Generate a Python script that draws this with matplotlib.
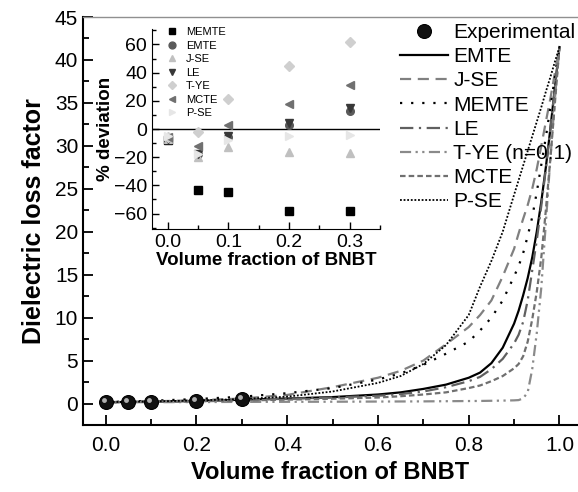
import matplotlib
matplotlib.use("Agg")
import matplotlib.pyplot as plt
from matplotlib.ticker import MultipleLocator
import matplotlib.transforms as mtransforms

plt.rcParams['font.family'] = ['Liberation Sans', 'DejaVu Sans']

# ---------------- data ----------------
x_exp = [0.0, 0.05, 0.1, 0.2, 0.3]
y_exp = [0.15, 0.18, 0.22, 0.32, 0.50]

x_model = [0.0, 0.1, 0.2, 0.3, 0.4, 0.5, 0.6, 0.65, 0.7, 0.75, 0.8, 0.825, 0.85,
           0.875, 0.9, 0.91, 0.92, 0.93, 0.94, 0.95, 0.96, 0.97, 0.98, 0.99, 1.0]
emte = [0.16, 0.20, 0.30, 0.44, 0.58, 0.75, 1.05, 1.3, 1.7, 2.2, 3.0, 3.6, 4.7,
        6.5, 9.3, 10.8, 12.6, 14.6, 17.0, 20.0, 23.5, 27.5, 32.0, 36.8, 41.5]
jse = [0.16, 0.25, 0.38, 0.58, 1.0, 1.9, 3.0, 3.8, 5.0, 6.9, 8.9, 10.3, 12.0,
       14.8, 18.0, 19.8, 21.5, 23.1, 25.0, 27.3, 30.0, 32.8, 35.5, 38.5, 41.5]
memte = [0.16, 0.32, 0.52, 0.79, 1.2, 1.8, 2.8, 3.5, 4.5, 5.8, 7.2, 8.5, 10.0,
         12.0, 14.8, 16.0, 17.5, 19.5, 21.7, 24.6, 27.8, 31.0, 34.5, 38.0, 41.5]
le = [0.16, 0.20, 0.30, 0.43, 0.55, 0.70, 0.90, 1.1, 1.4, 1.9, 2.6, 3.1, 4.0,
      5.2, 7.0, 8.0, 9.5, 12.0, 15.5, 19.0, 23.0, 27.3, 32.0, 36.8, 41.5]
tye = [0.15, 0.16, 0.17, 0.19, 0.20, 0.21, 0.23, 0.24, 0.25, 0.27, 0.29, 0.30, 0.32,
       0.34, 0.37, 0.40, 0.6, 1.3, 4.0, 8.2, 13.5, 21.0, 28.5, 35.5, 41.5]
mcte = [0.16, 0.19, 0.25, 0.35, 0.45, 0.56, 0.70, 0.85, 1.05, 1.3, 1.8, 2.1, 2.6,
        3.2, 4.1, 4.6, 5.5, 7.2, 9.8, 13.0, 17.0, 22.5, 28.5, 35.0, 41.5]
pse = [0.16, 0.24, 0.36, 0.52, 0.80, 1.4, 2.4, 3.2, 4.6, 6.8, 10.3, 13.6, 16.6,
       20.0, 24.3, 26.0, 27.7, 29.4, 31.1, 32.8, 34.5, 36.3, 38.0, 39.8, 41.5]

# inset: % deviation
x_dev = [0.0, 0.05, 0.1, 0.2, 0.3]
dev_memte = [-8, -43, -45, -58, -58]
dev_emte = [-7, -18, -6, 3, 13]
dev_jse = [-7, -20, -13, -16, -17]
dev_le = [-7, -18, -5, 4, 15]
dev_tye = [-6, -2, 21, 45, 62]
dev_mcte = [-6, -12, 3, 18, 31]
dev_pse = [-5, -18, -8, -5, -4]

# ---------------- figure ----------------
W, H = 578, 492
fig = plt.figure(figsize=(W / 100, H / 100), dpi=100)
ax = fig.add_axes([83 / W, 67 / H, (W - 83) / W, (425 - 17) / H])

ax.plot(x_model, emte, color='black', lw=1.6, ls='-', label='EMTE')
ax.plot(x_model, jse, color='#808080', lw=1.6, ls=(0, (5, 3)), label='J-SE')
ax.plot(x_model, memte, color='black', lw=1.6, ls=(0, (1, 4)), label='MEMTE')
ax.plot(x_model, le, color='#606060', lw=1.6, ls=(0, (6, 2.5, 1, 2.5)), label='LE')
ax.plot(x_model, tye, color='#8a8a8a', lw=1.6, ls=(0, (5, 2, 1, 2, 1, 2)), label='T-YE (n=0.1)')
ax.plot(x_model, mcte, color='#707070', lw=1.6, ls=(0, (2.5, 1.4)), label='MCTE')
ax.plot(x_model, pse, color='black', lw=1.3, ls=(0, (1, 1)), label='P-SE')

hexp, = ax.plot(x_exp, y_exp, ls='none', marker='o', ms=10, mfc='#111111',
                mec='black', mew=0.8, zorder=5, label='Experimental')
# highlight on spheres
off = mtransforms.offset_copy(ax.transData, fig=fig, x=-1.5, y=1.5, units='points')
ax.plot(x_exp, y_exp, ls='none', marker='o', ms=3.5, mfc='#b0b0b0', mec='none',
        transform=off, zorder=6)

ax.set_xlim(-0.05, (W - 107) / 452.5)
ax.set_ylim(-2.5, 45)
ax.xaxis.set_major_locator(MultipleLocator(0.2))
ax.xaxis.set_minor_locator(MultipleLocator(0.1))
ax.yaxis.set_major_locator(MultipleLocator(5))
ax.yaxis.set_minor_locator(MultipleLocator(2.5))
ax.tick_params(which='both', direction='in', labelsize=15, width=1.3)
ax.tick_params(which='major', length=7)
ax.tick_params(which='minor', length=4)
ax.tick_params(axis='x', pad=8)
ax.xaxis.set_major_formatter(matplotlib.ticker.FormatStrFormatter('%.1f'))
ax.spines['right'].set_visible(False)
ax.spines['top'].set_color('#909090')
ax.spines['top'].set_linewidth(1.0)
ax.spines['left'].set_linewidth(1.5)
ax.spines['bottom'].set_linewidth(1.5)
ax.set_xlabel('Volume fraction of BNBT', fontsize=17, fontweight='bold', labelpad=4)
ax.set_ylabel('Dielectric loss factor', fontsize=18, fontweight='bold', labelpad=6)

handles, labels = ax.get_legend_handles_labels()
order = [7, 0, 1, 2, 3, 4, 5, 6]
leg = ax.legend([handles[i] for i in order], [labels[i] for i in order],
                loc='upper left', bbox_to_anchor=(400 / W, (H - 23) / H),
                bbox_transform=fig.transFigure, frameon=False, fontsize=15,
                borderpad=0, borderaxespad=0, handlelength=2.3, handletextpad=0.25,
                labelspacing=0.25)

# ---------------- inset ----------------
ins = fig.add_axes([152 / W, (H - 229) / H, (380 - 152) / W, (229 - 29) / H])
ins.patch.set_alpha(0)
ins.axhline(0, color='black', lw=1.0)
ms = 5.5
ins.plot(x_dev, dev_memte, ls='none', marker='s', ms=ms, color='black', label='MEMTE')
ins.plot(x_dev, dev_emte, ls='none', marker='o', ms=ms, color='#5a5a5a', label='EMTE')
ins.plot(x_dev, dev_jse, ls='none', marker='^', ms=ms, color='#c0c0c0', label='J-SE')
ins.plot(x_dev, dev_le, ls='none', marker='v', ms=ms, color='#383838', label='LE')
ins.plot(x_dev, dev_tye, ls='none', marker='D', ms=ms - 0.8, color='#cfcfcf', label='T-YE')
ins.plot(x_dev, dev_mcte, ls='none', marker='<', ms=ms, color='#707070', label='MCTE')
ins.plot(x_dev, dev_pse, ls='none', marker='>', ms=ms, color='#e6e6e6', label='P-SE')

ins.set_xlim(-0.026, 0.35)
ins.set_ylim(-71, 71)
ins.xaxis.set_major_locator(MultipleLocator(0.1))
ins.xaxis.set_minor_locator(MultipleLocator(0.05))
ins.yaxis.set_major_locator(MultipleLocator(20))
ins.yaxis.set_minor_locator(MultipleLocator(10))
ins.set_yticks([-60, -40, -20, 0, 20, 40, 60])
ins.xaxis.set_major_formatter(matplotlib.ticker.FormatStrFormatter('%.1f'))
ins.tick_params(which='both', direction='in', labelsize=14, width=1.0)
ins.tick_params(which='major', length=5)
ins.tick_params(which='minor', length=3)
ins.spines['right'].set_visible(False)
ins.spines['top'].set_visible(False)
ins.set_xlabel('Volume fraction of BNBT', fontsize=13.5, fontweight='bold', labelpad=1)
ins.set_ylabel('% deviation', fontsize=13.5, fontweight='bold', labelpad=0)
ins.legend(loc='upper left', bbox_to_anchor=(166 / W, (H - 27) / H),
           bbox_transform=fig.transFigure, frameon=False, fontsize=8,
           borderpad=0, borderaxespad=0, handlelength=1.0, handletextpad=0.8,
           labelspacing=0.32, markerscale=0.9)

fig.savefig('out.png', dpi=100)
